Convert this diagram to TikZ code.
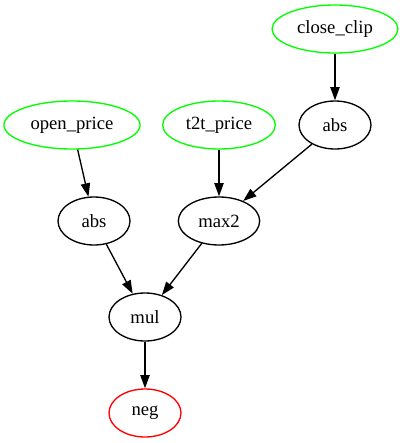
\documentclass[tikz,border=0pt]{standalone}
\usepackage{fontspec}
\setmainfont{Liberation Serif}
\usepackage{xcolor}
\usetikzlibrary{arrows.meta,shapes.geometric}
\definecolor{ink}   {HTML}{000000}
\definecolor{input} {HTML}{00FF00}
\definecolor{output}{HTML}{FF0000}
\tikzset{
  op/.style    ={ellipse, draw=ink, line width=1pt, inner xsep=5pt,
                 minimum width=54pt, minimum height=36pt,
                 font=\fontsize{14}{16}\selectfont},
  inop/.style  ={op, draw=input},
  outop/.style ={op, draw=output},
  arr/.style   ={-{Triangle[length=10pt,width=7pt]}, line width=1pt, draw=ink},
}
\begin{document}
\begin{tikzpicture}[x=0.75pt,y=-0.75pt]
  \useasboundingbox (0,0) rectangle (402,443);
  % inputs
  \node[inop] (close) at (335,29)  {close\_clip};
  \node[inop] (open)  at (72,125)  {open\_price};
  \node[inop] (t2t)   at (219,125) {t2t\_price};
  % operations
  \node[op] (absr) at (335,125) {abs};
  \node[op] (absl) at (94,221)  {abs};
  \node[op,minimum width=61pt] (max) at (219,221) {max2};
  \node[op] (mul)  at (145,317) {mul};
  \node[outop] (neg) at (145,413) {neg};
  \draw[arr] (close) -- (absr);
  \draw[arr] (open) -- (absl);
  \draw[arr] (t2t) -- (max);
  \draw[arr] (absr) -- (max);
  \draw[arr] (absl) -- (mul);
  \draw[arr] (max) -- (mul);
  \draw[arr] (mul) -- (neg);
\end{tikzpicture}
\end{document}
